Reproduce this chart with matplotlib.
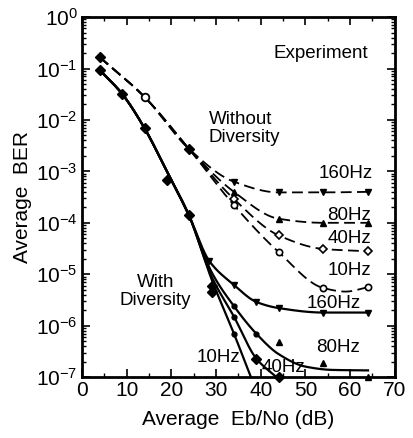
import numpy as np
import matplotlib
matplotlib.use("Agg")
import matplotlib.pyplot as plt

plt.rcParams['font.family'] = ['Liberation Sans', 'DejaVu Sans']
plt.rcParams['mathtext.fontset'] = 'custom'
plt.rcParams['mathtext.rm'] = 'Liberation Sans'
plt.rcParams['mathtext.it'] = 'Liberation Sans'

# ---------------- data ----------------
# Without diversity (dashed) fitted curves: shared start + branches
wo_x = [4, 14, 24]
wo_y = [1.65e-1, 2.8e-2, 2.7e-3]
wo160_x = [34, 44, 54, 64]; wo160_y = [6.3e-4, 3.9e-4, 3.9e-4, 4.0e-4]
wo80_x = [34, 44, 54, 64];  wo80_y = [4.0e-4, 1.2e-4, 1.0e-4, 1.0e-4]
wo40_x = [34, 44, 54, 64];  wo40_y = [2.9e-4, 5.7e-5, 3.1e-5, 2.8e-5]
wo10_x = [34, 44, 54, 59, 64]; wo10_y = [2.2e-4, 2.7e-5, 5.4e-6, 4.6e-6, 5.6e-6]

# With diversity (solid) fitted curves: shared start + branches
wd_x = [4, 9, 14, 19, 24]
wd_y = [9.3e-2, 3.2e-2, 6.9e-3, 1.0e-3, 1.35e-4]
wd160_x = [28.5, 34, 39, 44, 54, 64]; wd160_y = [1.8e-5, 6.2e-6, 2.9e-6, 2.2e-6, 1.8e-6, 1.8e-6]
wd80_x = [29, 34, 39, 44, 50, 56, 64];  wd80_y = [1.1e-5, 2.4e-6, 7.0e-7, 2.8e-7, 1.6e-7, 1.38e-7, 1.35e-7]
wd40_x = [29, 34, 39, 43.5];            wd40_y = [9.0e-6, 1.5e-6, 2.3e-7, 1.0e-7]
wd10_x = [29, 34, 37.8];                wd10_y = [8.0e-6, 7.0e-7, 1.0e-7]

# measured points (markers)
wo_mk_diam_x = [4, 24]; wo_mk_diam_y = [1.65e-1, 2.7e-3]
wo_mk_circ_x = [14];    wo_mk_circ_y = [2.8e-2]
wo160_mk_x = [34, 44, 54, 64]; wo160_mk_y = [6.3e-4, 3.9e-4, 3.9e-4, 4.0e-4]
wo80_mk_x = [34, 44, 54, 64];  wo80_mk_y = [4.0e-4, 1.2e-4, 1.0e-4, 1.0e-4]
wo40_mk_x = [34, 44, 54, 64];  wo40_mk_y = [2.9e-4, 5.7e-5, 3.1e-5, 2.8e-5]
wo10_mk_x = [34, 44, 54, 64];  wo10_mk_y = [2.2e-4, 2.7e-5, 5.4e-6, 5.6e-6]

wd_mk_x = [4, 9, 14, 19, 24, 29, 29]; wd_mk_y = [9.3e-2, 3.2e-2, 6.9e-3, 6.7e-4, 1.4e-4, 6e-6, 4.5e-6]
wd160_mk_x = [28.5, 34, 39, 44, 54, 64]; wd160_mk_y = [1.8e-5, 6.2e-6, 2.9e-6, 2.2e-6, 1.8e-6, 1.8e-6]
wd80_dot_x = [34, 39]; wd80_dot_y = [2.4e-6, 7.0e-7]
wd80_tri_x = [44, 54, 64]; wd80_tri_y = [4.8e-7, 1.9e-7, 1.0e-7]
wd40_dot_x = [34]; wd40_dot_y = [1.5e-6]
wd40_dia_x = [39, 44]; wd40_dia_y = [2.3e-7, 1.0e-7]
wd10_dot_x = [34]; wd10_dot_y = [7.0e-7]

xticks = [0, 10, 20, 30, 40, 50, 60, 70]
yexps = [0, -1, -2, -3, -4, -5, -6, -7]


def pchip(x, y, xn):
    x = np.asarray(x, float); y = np.asarray(y, float)
    n = len(x)
    h = np.diff(x); d = np.diff(y) / h
    m = np.zeros(n)
    m[0] = d[0]; m[-1] = d[-1]
    for k in range(1, n - 1):
        if d[k - 1] * d[k] <= 0:
            m[k] = 0.0
        else:
            w1 = 2 * h[k] + h[k - 1]; w2 = h[k] + 2 * h[k - 1]
            m[k] = (w1 + w2) / (w1 / d[k - 1] + w2 / d[k])
    idx = np.clip(np.searchsorted(x, xn) - 1, 0, n - 2)
    t = (xn - x[idx]) / h[idx]
    h00 = 2 * t**3 - 3 * t**2 + 1; h10 = t**3 - 2 * t**2 + t
    h01 = -2 * t**3 + 3 * t**2; h11 = t**3 - t**2
    return h00 * y[idx] + h10 * h[idx] * m[idx] + h01 * y[idx + 1] + h11 * h[idx] * m[idx + 1]


def smooth(xs, ys):
    xs = np.asarray(xs, float); ly = np.log10(ys)
    xn = np.linspace(xs[0], xs[-1], 300)
    return xn, 10 ** pchip(xs, ly, xn)


fig = plt.figure(figsize=(4.13, 4.38), dpi=100)
ax = fig.add_axes([0.1985, 0.139, 0.7575, 0.822])

dash = (0, (6, 3))
for bx, by in [(wo160_x, wo160_y), (wo80_x, wo80_y), (wo40_x, wo40_y), (wo10_x, wo10_y)]:
    xs, ys = smooth(wo_x + bx, wo_y + by)
    ax.plot(xs, ys, color='black', lw=1.3, linestyle=dash)

for bx, by in [(wd160_x, wd160_y), (wd80_x, wd80_y), (wd40_x, wd40_y), (wd10_x, wd10_y)]:
    xs, ys = smooth(wd_x + bx, wd_y + by)
    ax.plot(xs, ys, color='black', lw=1.6)

k = dict(color='black', linestyle='none', clip_on=False)
ax.plot(wo_mk_diam_x, wo_mk_diam_y, marker='D', ms=5, **k)
ax.plot(wo_mk_circ_x, wo_mk_circ_y, marker='o', ms=5.5, mfc='white', mew=1.3, **k)
ax.plot(wo160_mk_x, wo160_mk_y, marker='v', ms=4.5, **k)
ax.plot(wo80_mk_x, wo80_mk_y, marker='^', ms=4.5, **k)
ax.plot(wo40_mk_x, wo40_mk_y, marker='D', ms=4.5, mfc='white', mew=1.2, **k)
ax.plot(wo10_mk_x, wo10_mk_y, marker='o', ms=4.5, mfc='white', mew=1.2, **k)

ax.plot(wd_mk_x, wd_mk_y, marker='D', ms=5, **k)
ax.plot(wd160_mk_x, wd160_mk_y, marker='v', ms=4, **k)
ax.plot(wd80_dot_x, wd80_dot_y, marker='o', ms=3.5, **k)
ax.plot(wd80_tri_x, wd80_tri_y, marker='^', ms=4.5, **k)
ax.plot(wd40_dot_x, wd40_dot_y, marker='o', ms=3.5, **k)
ax.plot(wd40_dia_x, wd40_dia_y, marker='D', ms=5, **k)
ax.plot(wd10_dot_x, wd10_dot_y, marker='o', ms=3.5, **k)

ax.set_yscale('log')
ax.set_xlim(0, 70)
ax.set_ylim(1e-7, 1)
ax.set_xticks(xticks)
ax.set_xticklabels([str(v) for v in xticks])
ax.set_xticks([5, 15, 25, 35, 45, 55, 65], minor=True)
ax.set_yticks([10.0**e for e in yexps])
ax.set_yticklabels([r'$10^{%d}$' % e for e in yexps])
ax.yaxis.set_minor_locator(matplotlib.ticker.LogLocator(base=10, subs=np.arange(2, 10)))
ax.yaxis.set_minor_formatter(matplotlib.ticker.NullFormatter())
ax.tick_params(which='both', direction='in', top=True, right=True, labelsize=15, pad=3)
ax.tick_params(which='major', length=6, width=1.2)
ax.tick_params(which='minor', length=3, width=1.0)
for s in ax.spines.values():
    s.set_linewidth(2.0)

ax.set_xlabel('Average  Eb/No (dB)', fontsize=15, labelpad=7)
ax.set_ylabel('Average  BER', fontsize=15, labelpad=3)

tf = dict(fontsize=13.5, color='black')
ax.text(42.9, 10**-0.70, 'Experiment', va='center', ha='left', **tf)
ax.text(28.4, 10**-2.16, 'Without\nDiversity', va='center', ha='left', linespacing=1.1, **tf)
ax.text(16.4, 10**-5.33, 'With\nDiversity', va='center', ha='center', linespacing=1.1, **tf)
ax.text(52.9, 10**-3.04, '160Hz', va='center', ha='left', **tf)
ax.text(54.9, 10**-3.85, '80Hz', va='center', ha='left', **tf)
ax.text(54.9, 10**-4.30, '40Hz', va='center', ha='left', **tf)
ax.text(55.0, 10**-4.92, '10Hz', va='center', ha='left', **tf)
ax.text(50.2, 10**-5.56, '160Hz', va='center', ha='left', **tf)
ax.text(52.4, 10**-6.42, '80Hz', va='center', ha='left', **tf)
ax.text(40.3, 10**-6.81, '40Hz', va='center', ha='left', **tf)
ax.text(25.6, 10**-6.61, '10Hz', va='center', ha='left', **tf)

fig.savefig('out.png', dpi=100)
